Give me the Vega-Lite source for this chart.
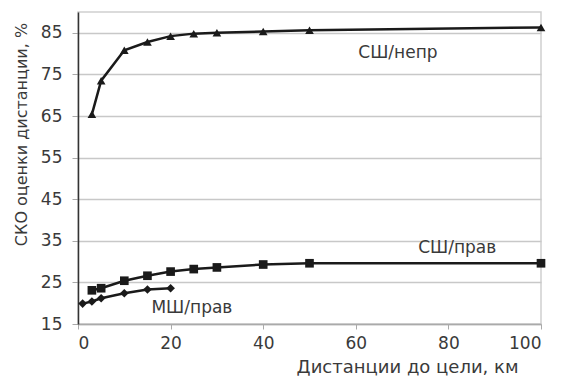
{
  "$schema": "https://vega.github.io/schema/vega-lite/v6.json",
  "width": 463,
  "height": 312,
  "autosize": {"type": "none"},
  "padding": {"left": 78, "top": 12, "right": 20, "bottom": 56},
  "background": "white",
  "config": {
    "font": "DejaVu Sans",
    "view": {"stroke": "#d0d0d0", "strokeWidth": 1.5},
    "axis": {"labelFont": "DejaVu Sans", "titleFont": "DejaVu Sans", "labelColor": "#3a3a3a", "titleColor": "#3a3a3a", "labelFontSize": 17, "titleFontSize": 17, "titleFontWeight": "normal"}
  },
  "datasets": {
    "pts": [
      {"series": "СШ/непр", "x": 3, "y": 65.4},
      {"series": "СШ/непр", "x": 5, "y": 73.5},
      {"series": "СШ/непр", "x": 10, "y": 80.8},
      {"series": "СШ/непр", "x": 15, "y": 82.8},
      {"series": "СШ/непр", "x": 20, "y": 84.2},
      {"series": "СШ/непр", "x": 25, "y": 84.8},
      {"series": "СШ/непр", "x": 30, "y": 85.0},
      {"series": "СШ/непр", "x": 40, "y": 85.3},
      {"series": "СШ/непр", "x": 50, "y": 85.6},
      {"series": "СШ/непр", "x": 100, "y": 86.3},
      {"series": "СШ/прав", "x": 3, "y": 23.1},
      {"series": "СШ/прав", "x": 5, "y": 23.6},
      {"series": "СШ/прав", "x": 10, "y": 25.4},
      {"series": "СШ/прав", "x": 15, "y": 26.6},
      {"series": "СШ/прав", "x": 20, "y": 27.6},
      {"series": "СШ/прав", "x": 25, "y": 28.2},
      {"series": "СШ/прав", "x": 30, "y": 28.6},
      {"series": "СШ/прав", "x": 40, "y": 29.3},
      {"series": "СШ/прав", "x": 50, "y": 29.6},
      {"series": "СШ/прав", "x": 100, "y": 29.6},
      {"series": "МШ/прав", "x": 1, "y": 19.9},
      {"series": "МШ/прав", "x": 3, "y": 20.4},
      {"series": "МШ/прав", "x": 5, "y": 21.2},
      {"series": "МШ/прав", "x": 10, "y": 22.4},
      {"series": "МШ/прав", "x": 15, "y": 23.3},
      {"series": "МШ/прав", "x": 20, "y": 23.6}
    ],
    "labels": [
      {"label": "СШ/непр", "x": 69.1, "y": 80.2},
      {"label": "СШ/прав", "x": 81.9, "y": 33.2},
      {"label": "МШ/прав", "x": 24.6, "y": 18.8}
    ]
  },
  "layer": [
    {
      "data": {"name": "pts"},
      "mark": {"type": "line", "color": "#1a1a1a", "strokeWidth": 2.5},
      "encoding": {
        "x": {"field": "x", "type": "quantitative", "scale": {"domain": [0, 100]},
          "axis": {"values": [0, 20, 40, 60, 80, 100], "title": "Дистанции до цели, км", "titleFontSize": 18, "titleAlign": "right", "titleAnchor": "end", "titleX": 440, "titleY": 48, "titleBaseline": "alphabetic", "grid": false, "domainColor": "#aaa", "domainWidth": 1.5, "tickColor": "#aaa", "tickSize": 5, "labelPadding": 6}},
        "y": {"field": "y", "type": "quantitative", "scale": {"domain": [15, 90], "nice": false},
          "axis": {"values": [15, 25, 35, 45, 55, 65, 75, 85], "title": "СКО оценки дистанции, %", "titleFontSize": 16, "titleX": -52, "titleY": 122, "titleBaseline": "alphabetic", "titleAlign": "center", "gridColor": "#c8c8c8", "gridWidth": 1.5, "domainColor": "#333", "domainWidth": 1.5, "tickColor": "#aaa", "tickSize": 6, "labelPadding": 10}},
        "detail": {"field": "series"}
      }
    },
    {
      "data": {"name": "pts"},
      "mark": {"type": "point", "filled": true, "color": "#1a1a1a", "opacity": 1},
      "encoding": {
        "x": {"field": "x", "type": "quantitative"},
        "y": {"field": "y", "type": "quantitative"},
        "shape": {"field": "series", "type": "nominal", "scale": {"domain": ["СШ/непр", "СШ/прав", "МШ/прав"], "range": ["triangle-up", "square", "diamond"]}, "legend": null},
        "size": {"value": 75}
      }
    },
    {
      "data": {"name": "labels"},
      "mark": {"type": "text", "fontSize": 17, "color": "#3a3a3a", "font": "DejaVu Sans"},
      "encoding": {
        "x": {"field": "x", "type": "quantitative"},
        "y": {"field": "y", "type": "quantitative"},
        "text": {"field": "label"}
      }
    }
  ]
}
